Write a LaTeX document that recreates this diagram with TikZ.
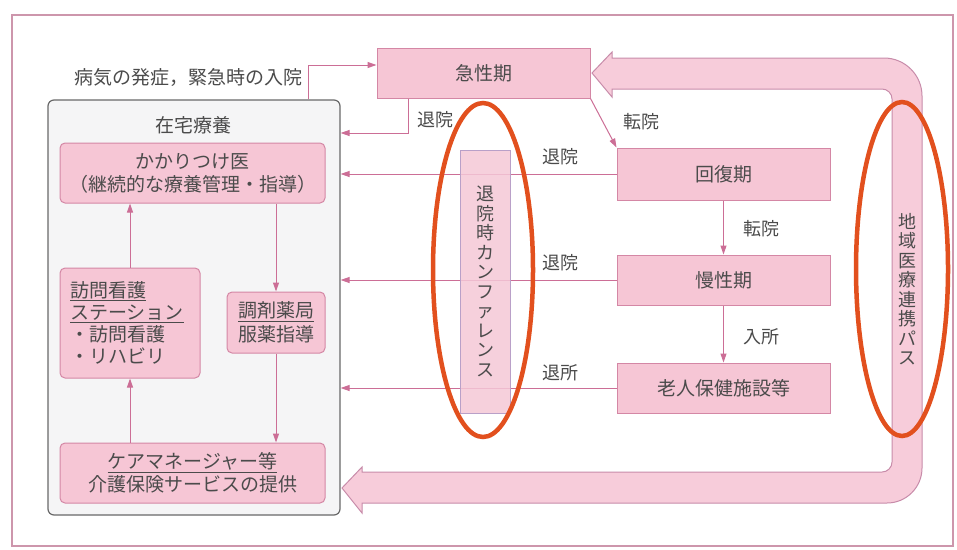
\documentclass[tikz,border=0pt]{standalone}
\usepackage{fontspec}
\setmainfont{Noto Sans CJK JP}
\usetikzlibrary{arrows.meta}
\definecolor{boxfill}{RGB}{246,198,213}
\definecolor{boxdraw}{RGB}{212,135,165}
\definecolor{linec}{RGB}{204,110,150}
\definecolor{bandfill}{RGB}{247,204,218}
\definecolor{banddraw}{RGB}{200,140,170}
\definecolor{kanfafill}{RGB}{245,200,215}
\definecolor{kanfadraw}{RGB}{185,160,200}
\definecolor{homefill}{RGB}{245,245,246}
\definecolor{homedraw}{RGB}{105,105,105}
\definecolor{txt}{RGB}{75,75,75}
\definecolor{ringc}{RGB}{226,80,30}
\definecolor{framec}{RGB}{205,150,172}
\begin{document}
\begin{tikzpicture}[x=1pt,y=-1pt,
  every node/.style={text=txt},
  mainfont/.style={font=\fontsize{19}{23}\selectfont},
  lblfont/.style={font=\fontsize{18}{20}\selectfont},
  vfont/.style={font=\fontsize{18}{19.5}\selectfont},
  stage/.style={draw=boxdraw, fill=boxfill, line width=1pt, inner sep=0pt, mainfont},
  homebox/.style={stage, rounded corners=5pt},
  conn/.style={draw=linec, line width=1pt, -{Triangle[length=9pt,width=6pt]}},
  lbl/.style={lblfont, inner sep=0pt},
  ring/.style={draw=ringc, line width=4.5pt},
]
\useasboundingbox (0,0) rectangle (957,549);
\fill[white] (0,0) rectangle (957,549);
\draw[framec, line width=1.5pt] (12,15) rectangle (953,546);

% home care block
\node[draw=homedraw, fill=homefill, line width=1.2pt, rounded corners=6pt,
      minimum width=292pt, minimum height=415pt, inner sep=0pt] (zaitaku) at (194,307.5) {};
\node[mainfont, inner sep=0pt] (ztitle) at (193,125) {在宅療養};
\node[homebox, minimum width=265pt, minimum height=60pt, align=center] (kakari) at (192.5,173)
  {かかりつけ医\\（継続的な療養管理・指導）};
\node[homebox, minimum width=140pt, minimum height=110pt, text width=120pt, align=left,
      font=\fontsize{19}{22}\selectfont] (houmon) at (130,323)
  {\underline{訪問看護}\\\underline{ステーション}\\・訪問看護\\・リハビリ};
\node[homebox, minimum width=98pt, minimum height=61pt, align=center,
      font=\fontsize{19}{24}\selectfont] (chouzai) at (276,322.5)
  {\underline{調剤薬局}\\服薬指導};
\node[homebox, minimum width=265pt, minimum height=60pt, align=center] (care) at (192.5,473)
  {\underline{ケアマネージャー等}\\介護保険サービスの提供};

% stages
\node[stage, minimum width=213pt, minimum height=50pt] (kyusei) at (483.5,73) {急性期};
\node[stage, minimum width=213pt, minimum height=52pt] (kaifuku) at (723.5,174) {回復期};
\node[stage, minimum width=213pt, minimum height=50pt] (mansei) at (723.5,280) {慢性期};
\node[stage, minimum width=213pt, minimum height=50pt] (roken) at (723.5,388) {老人保健施設等};

% connectors
\coordinate (onset) at (308,65);
\draw[conn] (zaitaku.north -| onset) -- (onset) -- (onset -| kyusei.west);
\node[mainfont, anchor=east, inner sep=0pt] (onsetlbl) at (303,78) {病気の発症，緊急時の入院};

\coordinate (dis1) at (408,133);
\draw[conn] (kyusei.south -| dis1) -- (dis1) -- (dis1 -| zaitaku.east);
\draw[conn] (kyusei.south east) -- (kaifuku.north west);
\draw[conn] (kaifuku.west) -- (kaifuku.west -| zaitaku.east);
\draw[conn] (mansei.west) -- (mansei.west -| zaitaku.east);
\draw[conn] (roken.west) -- (roken.west -| zaitaku.east);
\draw[conn] (kaifuku.south) -- (mansei.north);
\draw[conn] (mansei.south) -- (roken.north);
\draw[conn] (houmon.north) -- (houmon.north |- kakari.south);
\draw[conn] (care.north -| houmon.south) -- (houmon.south);
\draw[conn] (kakari.south -| chouzai.north) -- (chouzai.north);
\draw[conn] (chouzai.south) -- (chouzai.south |- care.north);

% regional pathway hollow arrow
\draw[fill=bandfill, draw=banddraw, line width=1pt]
  (342,488) -- (362,467) -- (362,472) -- (882,472)
  arc[start angle=90,end angle=0,radius=10] -- (892,99)
  arc[start angle=0,end angle=-90,radius=10] -- (612,89) -- (612,97) -- (592,73)
  -- (612,52) -- (612,58) -- (884,58)
  arc[start angle=-90,end angle=0,radius=38] -- (922,468)
  arc[start angle=0,end angle=90,radius=35] -- (362,503) -- (362,513) -- cycle;
\node[vfont, align=center, inner sep=0pt] (pathlbl) at (907,289) {地\\域\\医\\療\\連\\携\\パ\\ス};

% discharge conference
\node[draw=kanfadraw, fill=kanfafill, fill opacity=0.85, text opacity=1, line width=1pt,
      minimum width=50pt, minimum height=263pt, inner sep=0pt, vfont, align=center] (kanfa) at (485,281.5)
  {退\\院\\時\\カ\\ン\\フ\\ァ\\レ\\ン\\ス};

% labels
\node[lbl] (l1) at (435,120) {退院};
\node[lbl] (l2) at (641,122) {転院};
\node[lbl] (l3) at (560,157) {退院};
\node[lbl] (l4) at (761,229) {転院};
\node[lbl] (l5) at (560,263) {退院};
\node[lbl] (l6) at (761,337) {入所};
\node[lbl] (l7) at (560,373) {退所};

% highlight rings
\draw[ring] (483,270) ellipse [x radius=50, y radius=167];
\draw[ring] (902,269) ellipse [x radius=46, y radius=167];
\end{tikzpicture}
\end{document}
